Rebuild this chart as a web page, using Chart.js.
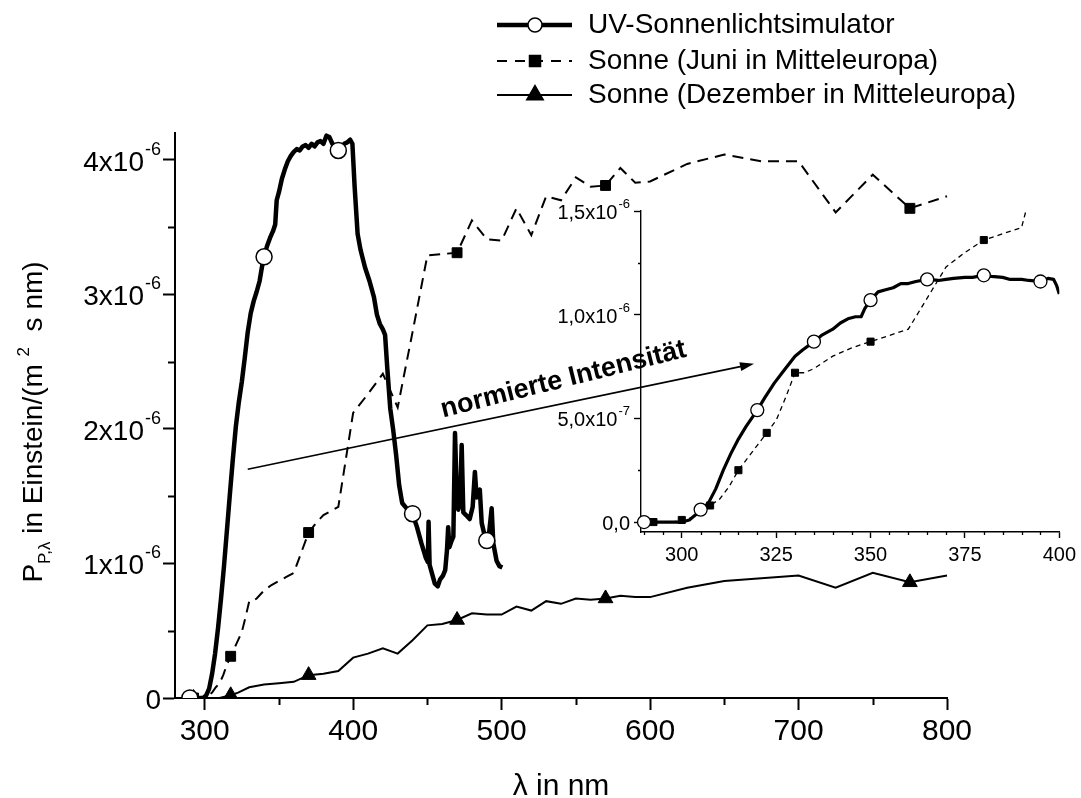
<!DOCTYPE html>
<html>
<head>
<meta charset="utf-8">
<title>UV-Sonnenlichtsimulator</title>
<script src="https://cdn.jsdelivr.net/npm/chart.js@4.4.1/dist/chart.umd.min.js"></script>
<style>
  html, body { margin: 0; padding: 0; background: #fff; }
  #wrap { position: relative; width: 1081px; height: 798px; overflow: hidden; }
  #main { position: absolute; left: 0; top: 0; }
  #inset { position: absolute; left: 520px; top: 190px; }
</style>
</head>
<body>
<div id="wrap">
  <canvas id="main" width="1081" height="798"></canvas>
  <canvas id="inset" width="561" height="390"></canvas>
</div>
<script>
var FONT = "'Liberation Sans', Arial, Helvetica, sans-serif";
var UNIT = 1e-6; // all values below are in 1e-6 Einstein/(m2 s nm)

var seriesLabels = ['UV-Sonnenlichtsimulator', 'Sonne (Juni in Mitteleuropa)', 'Sonne (Dezember in Mitteleuropa)'];

// simulator spectrum
var uvNm = [290, 293, 296, 299, 301, 303, 305, 307, 309, 311,
            313, 315, 317, 319, 321, 323, 325, 327, 329, 331,
            333, 335, 337, 338.5, 340, 342, 344, 346, 347.5, 348.5,
            350, 352, 354, 356, 358, 360, 362, 364, 366, 368,
            370, 372, 374, 376, 378, 380, 382, 384, 386, 388,
            390, 392, 394, 396, 398, 399.5, 401, 403, 405, 408,
            411, 414, 416, 418, 420, 421.5, 423, 425, 427, 429,
            431, 433, 436, 440, 443, 446, 449, 450.3, 450.8, 451.5,
            453, 455, 457, 458.5, 460.5, 462, 463.2, 464, 464.8, 466,
            467.5, 468.6, 469.7, 470.8, 472, 473.1, 474.2, 476, 478.5, 480.5,
            482, 483.2, 485.3, 486.6, 488.3, 490, 491.5, 493.3, 494.4, 496.6,
            498.5, 500.5];
var uvVal = [0, 0, 0, 0, 0.02, 0.07, 0.18, 0.33, 0.52, 0.74,
             0.98, 1.25, 1.52, 1.78, 2.02, 2.20, 2.35, 2.53, 2.72, 2.86,
             2.95, 3.02, 3.10, 3.20, 3.28, 3.36, 3.42, 3.47, 3.52, 3.70,
             3.76, 3.86, 3.93, 3.99, 4.03, 4.06, 4.08, 4.07, 4.10, 4.11,
             4.09, 4.12, 4.10, 4.13, 4.14, 4.12, 4.18, 4.17, 4.12, 4.10,
             4.07, 4.09, 4.12, 4.13, 4.15, 4.12, 3.80, 3.45, 3.33, 3.20,
             3.10, 2.98, 2.85, 2.78, 2.74, 2.70, 2.45, 2.15, 1.99, 1.80,
             1.58, 1.45, 1.41, 1.37, 1.27, 1.15, 1.04, 1.01, 1.31, 0.99,
             0.93, 0.85, 0.83, 0.88, 0.91, 0.95, 1.10, 1.27, 1.12, 1.16,
             1.20, 1.97, 1.55, 1.40, 1.45, 1.88, 1.38, 1.36, 1.33, 1.42,
             1.68, 1.49, 1.55, 1.30, 1.22, 1.17, 1.22, 1.41, 1.15, 1.02,
             0.98, 0.97];
var uvMarks = [290, 340, 390, 440, 490];

// sun, June
var juneNm = [292.5, 295, 297.5, 300, 302.5, 305, 307.5, 310, 312.5, 315,
              317.5, 320, 322.5, 325, 327.5, 330, 332.5, 335, 340, 345,
              350, 355, 360, 365, 370, 375, 380, 385, 390, 400,
              410, 420, 430, 440, 450, 460, 470, 480, 490, 500,
              510, 520, 530, 540, 550, 560, 570, 580, 590, 600,
              625, 650, 675, 700, 725, 750, 775, 800];
var juneVal = [0, 0, 0, 0.01, 0.02, 0.04, 0.08, 0.11, 0.17, 0.25,
               0.31, 0.37, 0.43, 0.49, 0.60, 0.72, 0.72, 0.74, 0.80, 0.84,
               0.87, 0.90, 0.93, 1.08, 1.23, 1.30, 1.36, 1.39, 1.42, 2.12,
               2.26, 2.41, 2.16, 2.72, 3.29, 3.30, 3.31, 3.55, 3.41, 3.40,
               3.64, 3.44, 3.73, 3.70, 3.87, 3.80, 3.81, 3.94, 3.83, 3.84,
               3.97, 4.04, 3.99, 3.99, 3.61, 3.89, 3.64, 3.73];
var juneMarks = [292.5, 317.5, 370, 470, 570, 775];
var juneInsetMarks = [292.5, 300, 307.5, 315, 322.5, 330, 350, 380];

// sun, December
var decNm = [292.5, 300, 310, 317.5, 322.5, 330, 340, 350, 360, 370,
             380, 390, 400, 410, 420, 430, 440, 450, 460, 470,
             480, 490, 500, 510, 520, 530, 540, 550, 560, 570,
             580, 590, 600, 625, 650, 675, 700, 725, 750, 775, 800];
var decVal = [0, 0, 0, 0.02, 0.04, 0.08, 0.10, 0.11, 0.12, 0.17,
              0.18, 0.20, 0.30, 0.33, 0.37, 0.33, 0.43, 0.54, 0.55, 0.58,
              0.63, 0.62, 0.62, 0.68, 0.65, 0.72, 0.70, 0.74, 0.73, 0.74,
              0.76, 0.75, 0.75, 0.82, 0.87, 0.89, 0.91, 0.82, 0.93, 0.86, 0.91];
var decMarks = [292.5, 317.5, 370, 470, 570, 775];

// normalised simulator spectrum for the small plot
var insetUvNm = [290, 292, 295, 298, 300, 302, 304, 305, 307, 309,
                 311, 313, 315, 317, 320, 322, 324.5, 327, 330, 332,
                 335, 337, 340, 342, 344, 346, 347.5, 348.5, 350, 352,
                 354, 356, 358, 360, 362, 365, 368, 370, 372, 375,
                 377, 380, 382, 385, 387, 390, 392, 395, 397, 398.5,
                 399.3, 400];
var insetUvVal = [0, 0, 0, 0, 0, 0.01, 0.04, 0.06, 0.09, 0.16,
                  0.25, 0.33, 0.40, 0.46, 0.54, 0.60, 0.67, 0.73, 0.80, 0.83,
                  0.87, 0.90, 0.93, 0.96, 0.98, 0.99, 0.99, 1.03, 1.07, 1.11,
                  1.12, 1.13, 1.15, 1.15, 1.16, 1.17, 1.165, 1.17, 1.175, 1.18,
                  1.18, 1.19, 1.185, 1.18, 1.17, 1.17, 1.165, 1.16, 1.175, 1.17,
                  1.14, 1.10];
var insetUvMarks = [290, 305, 320, 335, 350, 365, 380, 395];

// ticks
var mainXTicks = [300, 400, 500, 600, 700, 800];
var mainXMinor = [350, 450, 550, 650, 750];
var mainYTicks = [0, 1, 2, 3, 4];
var mainYMinor = [0.5, 1.5, 2.5, 3.5];
var insetXTicks = [300, 325, 350, 375, 400];
var insetXMinor = [290, 295, 305, 310, 315, 320, 330, 335, 340, 345, 355, 360, 365, 370, 380, 385, 390, 395];
var insetYTicks = [0, 0.5, 1.0, 1.5];
var insetYMinor = [0.25, 0.75, 1.25];

// arrow "normierte Intensitaet" (nm, 1e-6)
var arrowFrom = [329, 1.70];
var arrowTo = [670, 2.485];
var arrowTextAt = [460.5, 2.086];

function points(nm, val) {
  return nm.map(function (x, i) { return { x: x, y: val[i] * UNIT }; });
}

function markAt(list, r) {
  return function (ctx) {
    return ctx.raw && list.indexOf(ctx.raw.x) >= 0 ? r : 0;
  };
}

function fixTicks(list, scaleBy) {
  return function (scale) {
    scale.ticks = list.map(function (v) { return { value: v * scaleBy }; });
  };
}

function sciParts(v, decimals) {
  if (Math.abs(v) < 1e-15) return { main: decimals ? '0,0' : '0', sup: '' };
  var exp = Math.floor(Math.log10(v) + 1e-9);
  var mant = v / Math.pow(10, exp);
  var m = decimals ? mant.toFixed(1).replace('.', ',') : String(Math.round(mant));
  return { main: m + 'x10', sup: '-' + (-exp) };
}

// y labels with a raised exponent, right aligned next to the tick marks
function drawSciLabels(ctx, scale, list, o) {
  var right = scale.right - o.gap;
  ctx.fillStyle = '#000';
  ctx.textAlign = 'right';
  ctx.textBaseline = 'alphabetic';
  list.forEach(function (v) {
    var py = scale.getPixelForValue(v * UNIT);
    var p = sciParts(v * UNIT, o.decimals);
    var x = right;
    if (p.sup) {
      ctx.font = o.supSize + 'px ' + FONT;
      ctx.fillText(p.sup, x, py + o.dySup);
      x -= ctx.measureText(p.sup).width + 1;
    }
    ctx.font = o.size + 'px ' + FONT;
    ctx.fillText(p.main, x, py + o.dyMain);
  });
}

function drawMinor(ctx, chart, xList, yList, len, width) {
  var xs = chart.scales.x, ys = chart.scales.y, a = chart.chartArea;
  ctx.strokeStyle = '#000';
  ctx.lineWidth = width;
  ctx.beginPath();
  xList.forEach(function (v) {
    var px = Math.round(xs.getPixelForValue(v)) + 0.5;
    ctx.moveTo(px, a.bottom);
    ctx.lineTo(px, a.bottom + len);
  });
  yList.forEach(function (v) {
    var py = Math.round(ys.getPixelForValue(v * UNIT)) + 0.5;
    ctx.moveTo(a.left, py);
    ctx.lineTo(a.left - len, py);
  });
  ctx.stroke();
}

function drawMarker(ctx, style, x, y, r, fill) {
  ctx.save();
  ctx.setLineDash([]);
  ctx.lineWidth = 1.5;
  ctx.strokeStyle = '#000';
  ctx.fillStyle = fill;
  ctx.beginPath();
  if (style === 'circle') {
    ctx.arc(x, y, r, 0, Math.PI * 2);
  } else if (style === 'rect') {
    ctx.rect(x - r, y - r, 2 * r, 2 * r);
  } else {
    ctx.moveTo(x, y - r);
    ctx.lineTo(x + r * 0.866, y + r * 0.5);
    ctx.lineTo(x - r * 0.866, y + r * 0.5);
    ctx.closePath();
  }
  ctx.fill();
  ctx.stroke();
  ctx.restore();
}

var mainDeco = {
  id: 'mainDeco',
  afterDraw: function (chart) {
    var ctx = chart.ctx, xs = chart.scales.x, ys = chart.scales.y, a = chart.chartArea;
    ctx.save();

    drawMinor(ctx, chart, mainXMinor, mainYMinor, 7, 2);
    drawSciLabels(ctx, ys, mainYTicks, { size: 28, supSize: 18, gap: 14, dyMain: 11, dySup: -5, decimals: false });

    // x title
    ctx.fillStyle = '#000';
    ctx.font = '30px ' + FONT;
    ctx.textAlign = 'center';
    ctx.textBaseline = 'alphabetic';
    ctx.fillText('\u03bb in nm', (a.left + a.right) / 2, 795);

    // y title with sub- and superscript
    var parts = [
      { t: 'P', s: 28, dy: 0 },
      { t: 'P,\u03bb', s: 17, dy: 8 },
      { t: ' in Einstein/(m ', s: 28, dy: 0 },
      { t: '2', s: 17, dy: -13 },
      { t: '  s nm)', s: 28, dy: 0 }
    ];
    var total = 0;
    parts.forEach(function (p) {
      ctx.font = p.s + 'px ' + FONT;
      p.w = ctx.measureText(p.t).width;
      total += p.w;
    });
    ctx.save();
    ctx.translate(42, 422);
    ctx.rotate(-Math.PI / 2);
    ctx.textAlign = 'left';
    var cx = -total / 2;
    parts.forEach(function (p) {
      ctx.font = p.s + 'px ' + FONT;
      ctx.fillText(p.t, cx, p.dy);
      cx += p.w;
    });
    ctx.restore();

    // arrow to the normalised plot
    var sx = xs.getPixelForValue(arrowFrom[0]), sy = ys.getPixelForValue(arrowFrom[1] * UNIT);
    var ex = xs.getPixelForValue(arrowTo[0]), ey = ys.getPixelForValue(arrowTo[1] * UNIT);
    var ang = Math.atan2(ey - sy, ex - sx);
    ctx.strokeStyle = '#000';
    ctx.lineWidth = 1.6;
    ctx.beginPath();
    ctx.moveTo(sx, sy);
    ctx.lineTo(ex - Math.cos(ang) * 8, ey - Math.sin(ang) * 8);
    ctx.stroke();
    ctx.fillStyle = '#000';
    ctx.beginPath();
    ctx.moveTo(ex, ey);
    ctx.lineTo(ex - 14 * Math.cos(ang) + 4.5 * Math.sin(ang), ey - 14 * Math.sin(ang) - 4.5 * Math.cos(ang));
    ctx.lineTo(ex - 14 * Math.cos(ang) - 4.5 * Math.sin(ang), ey - 14 * Math.sin(ang) + 4.5 * Math.cos(ang));
    ctx.closePath();
    ctx.fill();

    ctx.save();
    ctx.translate(xs.getPixelForValue(arrowTextAt[0]), ys.getPixelForValue(arrowTextAt[1] * UNIT));
    ctx.rotate(-14 * Math.PI / 180);
    ctx.font = 'bold 27px ' + FONT;
    ctx.textAlign = 'left';
    ctx.fillText('normierte Intensit\u00e4t', 0, 0);
    ctx.restore();

    // legend
    var rows = [25, 61, 95];
    var markR = [7, 5.5, 9.5];
    chart.data.datasets.forEach(function (ds, i) {
      var y = rows[i];
      ctx.save();
      ctx.strokeStyle = '#000';
      ctx.lineWidth = ds.borderWidth;
      ctx.setLineDash(ds.borderDash ? [10, 8] : []);
      ctx.beginPath();
      ctx.moveTo(497, y);
      ctx.lineTo(572, y);
      ctx.stroke();
      ctx.restore();
      drawMarker(ctx, ds.pointStyle, 535, y, markR[i], ds.pointBackgroundColor);
      ctx.fillStyle = '#000';
      ctx.font = '28px ' + FONT;
      ctx.textAlign = 'left';
      ctx.textBaseline = 'middle';
      ctx.fillText(ds.label, 588, y);
    });

    ctx.restore();
  }
};

var insetDeco = {
  id: 'insetDeco',
  afterDraw: function (chart) {
    var ctx = chart.ctx;
    ctx.save();
    drawMinor(ctx, chart, insetXMinor, insetYMinor, 3, 1.3);
    drawSciLabels(ctx, chart.scales.y, insetYTicks, { size: 20, supSize: 13, gap: 11, dyMain: 8, dySup: -3, decimals: true });
    ctx.restore();
  }
};

function axisOpts(o) {
  return {
    type: 'linear',
    min: o.min,
    max: o.max,
    afterBuildTicks: fixTicks(o.ticks, o.scaleBy),
    afterFit: o.fit,
    border: { display: true, color: '#000', width: o.width },
    grid: { display: true, drawOnChartArea: false, drawTicks: true, tickLength: o.tick, tickColor: '#000', tickWidth: o.width },
    ticks: {
      display: o.labels,
      color: '#000',
      font: { family: FONT, size: o.fontSize },
      padding: o.pad,
      autoSkip: false,
      maxRotation: 0,
      callback: function (v) { return String(v); }
    }
  };
}

new Chart(document.getElementById('main').getContext('2d'), {
  type: 'line',
  data: {
    datasets: [{
      label: seriesLabels[0],
      data: points(uvNm, uvVal),
      borderColor: '#000',
      borderWidth: 4.5,
      borderJoinStyle: 'round',
      pointStyle: 'circle',
      pointRadius: markAt(uvMarks, 8),
      pointBackgroundColor: '#fff',
      pointBorderColor: '#000',
      pointBorderWidth: 1.5,
      clip: { left: 10, top: 10, right: 10, bottom: 0 }
    }, {
      label: seriesLabels[1],
      data: points(juneNm, juneVal),
      borderColor: '#000',
      borderWidth: 2,
      borderDash: [11, 7],
      pointStyle: 'rect',
      pointRadius: markAt(juneMarks, 7),
      pointBackgroundColor: '#000',
      pointBorderColor: '#000',
      pointBorderWidth: 1,
      clip: { left: 10, top: 10, right: 10, bottom: 0 }
    }, {
      label: seriesLabels[2],
      data: points(decNm, decVal),
      borderColor: '#000',
      borderWidth: 2,
      pointStyle: 'triangle',
      pointRadius: markAt(decMarks, 8.5),
      pointBackgroundColor: '#000',
      pointBorderColor: '#000',
      pointBorderWidth: 1,
      clip: { left: 10, top: 10, right: 10, bottom: 0 }
    }]
  },
  options: {
    responsive: false,
    animation: false,
    devicePixelRatio: 1,
    events: [],
    elements: { line: { tension: 0 } },
    layout: { padding: { left: 0, right: 134, top: 133, bottom: 0 } },
    plugins: { legend: { display: false }, tooltip: { enabled: false } },
    scales: {
      x: axisOpts({ min: 280, max: 800, ticks: mainXTicks, scaleBy: 1, width: 2, tick: 12, labels: true, fontSize: 30, pad: 4,
        fit: function (s) { s.height = 100; } }),
      y: axisOpts({ min: 0, max: 4.2 * UNIT, ticks: mainYTicks, scaleBy: UNIT, width: 2, tick: 12, labels: false, fontSize: 28, pad: 0,
        fit: function (s) { s.width = 175; } })
    }
  },
  plugins: [mainDeco]
});

new Chart(document.getElementById('inset').getContext('2d'), {
  type: 'line',
  data: {
    datasets: [{
      label: seriesLabels[0],
      data: points(insetUvNm, insetUvVal),
      borderColor: '#000',
      borderWidth: 3.2,
      borderJoinStyle: 'round',
      pointStyle: 'circle',
      pointRadius: markAt(insetUvMarks, 6.5),
      pointBackgroundColor: '#fff',
      pointBorderColor: '#000',
      pointBorderWidth: 1.3,
      clip: { left: 10, top: 0, right: 0, bottom: 10 }
    }, {
      label: seriesLabels[1],
      data: points(juneNm, juneVal),
      borderColor: '#000',
      borderWidth: 1.3,
      borderDash: [5, 4],
      pointStyle: 'rect',
      pointRadius: markAt(juneInsetMarks, 5),
      pointBackgroundColor: '#000',
      pointBorderColor: '#000',
      pointBorderWidth: 1,
      clip: { left: 10, top: 0, right: 0, bottom: 10 }
    }]
  },
  options: {
    responsive: false,
    animation: false,
    devicePixelRatio: 1,
    events: [],
    elements: { line: { tension: 0 } },
    layout: { padding: { left: 0, right: 18, top: 21, bottom: 0 } },
    plugins: { legend: { display: false }, tooltip: { enabled: false } },
    scales: {
      x: axisOpts({ min: 289.2, max: 400, ticks: insetXTicks, scaleBy: 1, width: 1.4, tick: 6, labels: true, fontSize: 20, pad: 5,
        fit: function (s) { s.height = 48; } }),
      y: axisOpts({ min: -0.048 * UNIT, max: 1.5 * UNIT, ticks: insetYTicks, scaleBy: UNIT, width: 1.4, tick: 7, labels: false, fontSize: 20, pad: 0,
        fit: function (s) { s.width = 121; } })
    }
  },
  plugins: [insetDeco]
});
</script>
</body>
</html>
